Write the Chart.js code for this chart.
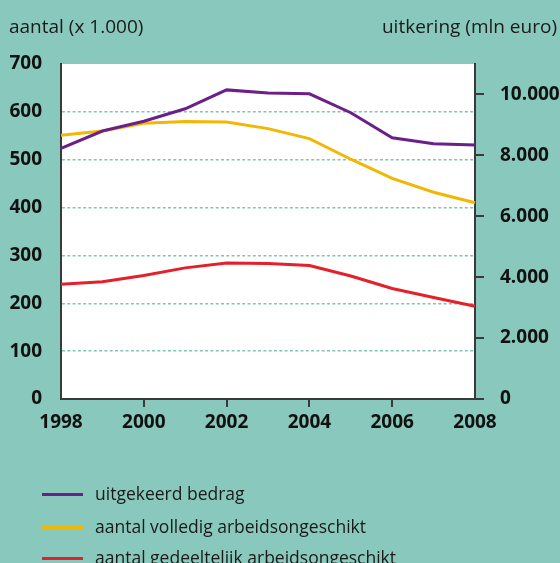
<!DOCTYPE html>
<html>
<head>
<meta charset="utf-8">
<script src="https://cdn.jsdelivr.net/npm/chart.js@4/dist/chart.umd.min.js"></script>
<style>
  html, body { margin: 0; padding: 0; }
  body { width: 560px; height: 563px; background: #89c8bd; position: relative; overflow: hidden; font-family: "Open Sans", "Noto Sans", sans-serif; color: #1a1a1a; }
  #c { position: absolute; left: 0; top: 0; }
  .ttl { position: absolute; top: 14px; font-size: 19px; line-height: 24px; white-space: nowrap; }
  .leg { position: absolute; left: 42px; font-size: 17.5px; line-height: 23px; white-space: nowrap; height: 23px; }
  .leg span.sw { position: absolute; left: 0; top: 10px; width: 41px; height: 3px; }
  .leg span.tx { position: absolute; left: 53px; top: -1px; }
</style>
</head>
<body>
<canvas id="c" width="560" height="563"></canvas>
<div class="ttl" style="left:9px">aantal (x 1.000)</div>
<div class="ttl" style="right:3px">uitkering (mln euro)</div>
<div id="legend"></div>
<script>
const years = ['1998','1999','2000','2001','2002','2003','2004','2005','2006','2007','2008'];
const uitgekeerdBedrag = [8230, 8800, 9120, 9530, 10150, 10050, 10020, 9400, 8580, 8380, 8340];
const aantalVolledig = [551, 560, 576, 580, 579, 565, 544, 501, 461, 432, 410];
const aantalGedeeltelijk = [240, 245, 258, 274, 284, 283, 279, 257, 231, 212, 194];
const leftTicks = [0, 100, 200, 300, 400, 500, 600, 700];
const rightTicks = [0, 2000, 4000, 6000, 8000, 10000];
const seriesNames = ['uitgekeerd bedrag', 'aantal volledig arbeidsongeschikt', 'aantal gedeeltelijk arbeidsongeschikt'];
const seriesColors = ['#6b2088', '#f2b705', '#e4202a'];

const fmt = v => v === 0 ? '0' : v.toLocaleString('nl-NL');

const whiteArea = {
  id: 'whiteArea',
  beforeDraw(chart) {
    const a = chart.chartArea, ctx = chart.ctx;
    ctx.save();
    ctx.fillStyle = '#ffffff';
    ctx.fillRect(a.left, a.top, a.right - a.left, a.bottom - a.top);
    ctx.restore();
  }
};

const tickFont = { family: '"Open Sans", "Noto Sans", sans-serif', size: 19, weight: 'bold' };

new Chart(document.getElementById('c'), {
  type: 'line',
  data: {
    labels: years,
    datasets: [
      { label: seriesNames[0], data: uitgekeerdBedrag, yAxisID: 'yR', borderColor: seriesColors[0], borderWidth: 3, pointRadius: 0, tension: 0 },
      { label: seriesNames[1], data: aantalVolledig, yAxisID: 'y', borderColor: seriesColors[1], borderWidth: 3, pointRadius: 0, tension: 0 },
      { label: seriesNames[2], data: aantalGedeeltelijk, yAxisID: 'y', borderColor: seriesColors[2], borderWidth: 3, pointRadius: 0, tension: 0 }
    ]
  },
  options: {
    responsive: false,
    animation: false,
    events: [],
    layout: { padding: { top: 64, left: 0, right: 0, bottom: 124 } },
    plugins: { legend: { display: false }, tooltip: { enabled: false } },
    scales: {
      x: {
        offset: false,
        grid: {
          drawOnChartArea: false, drawTicks: true, tickLength: 8,
          color: ctx => (ctx.index % 2 === 0 && ctx.index > 0 && ctx.index < years.length - 1) ? '#3a3a3a' : 'rgba(0,0,0,0)',
          lineWidth: 2
        },
        border: { display: true, color: '#3a3a3a', width: 2 },
        ticks: {
          autoSkip: false, maxRotation: 0, padding: 4, color: '#111', font: tickFont,
          callback: (v, i) => (i % 2 === 0) ? years[i] : ''
        },
        afterFit: s => { s.height = 40; }
      },
      y: {
        position: 'left', min: 0, max: 700,
        afterBuildTicks: s => { s.ticks = leftTicks.map(v => ({ value: v })); },
        grid: {
          drawTicks: false, lineWidth: 1.5,
          color: ctx => (ctx.tick && ctx.tick.value > 0 && ctx.tick.value < 700) ? '#7fc6b8' : 'rgba(0,0,0,0)'
        },
        border: { display: true, color: '#3a3a3a', width: 2, dash: [3, 2.3] },
        ticks: { padding: 19, color: '#111', font: tickFont, callback: v => fmt(v) },
        afterFit: s => { s.width = 61; }
      },
      yR: {
        position: 'right', min: 0, max: 11000,
        afterBuildTicks: s => { s.ticks = rightTicks.map(v => ({ value: v })); },
        grid: { drawOnChartArea: false, drawTicks: true, tickLength: 9, color: '#3a3a3a', lineWidth: 2 },
        border: { display: true, color: '#3a3a3a', width: 2 },
        ticks: { padding: 16, color: '#111', font: tickFont, callback: v => fmt(v) },
        afterFit: s => { s.width = 85; }
      }
    }
  },
  plugins: [whiteArea]
});

const legendEl = document.getElementById('legend');
const legendTops = [483, 516, 547];
seriesNames.forEach((n, i) => {
  const d = document.createElement('div');
  d.className = 'leg';
  d.style.top = legendTops[i] + 'px';
  d.innerHTML = '<span class="sw" style="background:' + seriesColors[i] + '"></span><span class="tx">' + n + '</span>';
  legendEl.appendChild(d);
});
</script>
</body>
</html>
